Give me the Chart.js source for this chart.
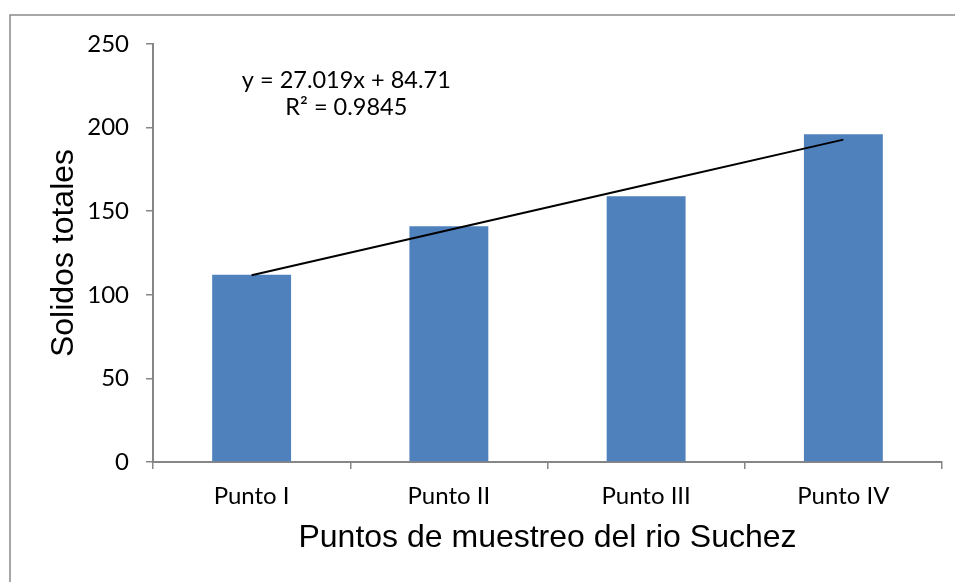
<!DOCTYPE html>
<html>
<head>
<meta charset="utf-8">
<script src="https://cdn.jsdelivr.net/npm/chart.js@4.4.0/dist/chart.umd.min.js"></script>
<style>
  html, body { margin: 0; padding: 0; background: #fff; }
  canvas { display: block; }
</style>
</head>
<body>
<canvas id="c" width="955" height="582"></canvas>
<script>
// ---- data ----
const categories = ["Punto I", "Punto II", "Punto III", "Punto IV"];
const solidosTotales = [112, 141, 159, 196];
const trendValues = [111.7, 138.8, 165.8, 192.8];
const yTicks = [0, 50, 100, 150, 200, 250];
const trendLabelLines = ["y = 27.019x + 84.71", "R\u00B2 = 0.9845"];
const trendLabelYValues = [228, 212];
const trendLabelXValue = 0.48;

const axisGray = '#868686';
const tickFont = { family: 'Lato', size: 24 };

const frame = {
  id: 'frame',
  beforeDraw(chart) {
    const ctx = chart.ctx;
    ctx.save();
    ctx.fillStyle = '#fff';
    ctx.fillRect(0, 0, chart.width, chart.height);
    ctx.strokeStyle = '#8a8a8a';
    ctx.lineWidth = 1.5;
    ctx.strokeRect(10, 15, 1200, 1200);
    ctx.restore();
  }
};

const trendLabel = {
  id: 'trendLabel',
  afterDatasetsDraw(chart) {
    const ctx = chart.ctx;
    const x = chart.scales.x.getPixelForValue(trendLabelXValue);
    ctx.save();
    ctx.fillStyle = '#000';
    ctx.font = '23.5px Lato';
    ctx.textAlign = 'center';
    ctx.textBaseline = 'middle';
    trendLabelLines.forEach((t, i) => {
      ctx.fillText(t, x, chart.scales.y.getPixelForValue(trendLabelYValues[i]));
    });
    ctx.restore();
  }
};

new Chart(document.getElementById('c'), {
  type: 'bar',
  data: {
    labels: categories,
    datasets: [
      {
        type: 'line',
        data: trendValues,
        borderColor: '#000',
        borderWidth: 2,
        pointRadius: 0,
        fill: false,
        tension: 0,
        order: 0
      },
      {
        type: 'bar',
        data: solidosTotales,
        backgroundColor: '#4F81BD',
        borderWidth: 0,
        categoryPercentage: 1,
        barPercentage: 0.4,
        order: 1
      }
    ]
  },
  options: {
    responsive: false,
    animation: false,
    layout: { padding: { top: 44, right: 13, left: 0, bottom: 0 } },
    plugins: { legend: { display: false }, tooltip: { enabled: false } },
    scales: {
      x: {
        offset: true,
        grid: { display: true, offset: true, drawOnChartArea: false, drawTicks: true, tickLength: 7, color: axisGray, lineWidth: 1.5 },
        border: { color: axisGray, width: 2 },
        ticks: { color: '#000', font: tickFont, padding: 13, maxRotation: 0 },
        title: { display: true, text: 'Puntos de muestreo del rio Suchez', color: '#000',
                 font: { family: 'Liberation Sans', size: 32 }, padding: { top: 0, bottom: 25 } },
        afterFit(scale) { scale.height = 120; }
      },
      y: {
        min: 0, max: 250,
        afterBuildTicks(scale) { scale.ticks = yTicks.map(v => ({ value: v })); },
        grid: { display: true, drawOnChartArea: false, drawTicks: true, tickLength: 7, color: axisGray, lineWidth: 1.5 },
        border: { color: axisGray, width: 2 },
        ticks: { color: '#000', font: tickFont, padding: 17 },
        title: { display: true, text: 'Solidos totales', color: '#000',
                 font: { family: 'Liberation Sans', size: 32 }, padding: { top: 45, bottom: 0 } },
        afterFit(scale) { scale.width = 153; }
      }
    }
  },
  plugins: [frame, trendLabel]
});
</script>
</body>
</html>
